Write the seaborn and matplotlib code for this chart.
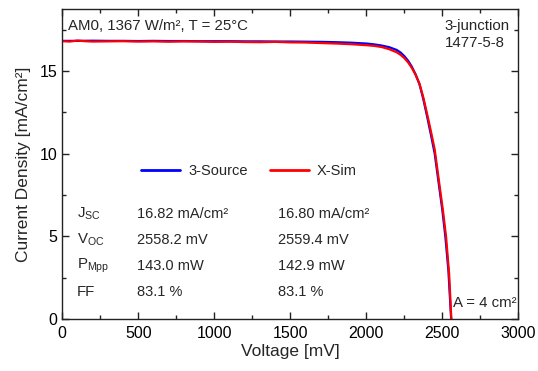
import matplotlib
matplotlib.use("Agg")
import matplotlib.pyplot as plt
import seaborn as sns
import pandas as pd
from matplotlib.ticker import MultipleLocator

# I-V data of the 3-junction cell (voltage in mV, current density in mA/cm²)
v_source = [0, 100, 200, 300, 400, 500, 600, 700, 800, 900, 1000, 1100, 1200,
            1300, 1400, 1500, 1600, 1700, 1800, 1900, 2000, 2050, 2100, 2150,
            2200, 2225, 2250, 2275, 2300, 2325, 2350, 2375, 2400, 2425, 2450,
            2475, 2500, 2520, 2540, 2558.2]
j_source = [16.82, 16.82, 16.83, 16.82, 16.82, 16.81, 16.82, 16.81, 16.81,
            16.80, 16.80, 16.80, 16.79, 16.79, 16.78, 16.78, 16.77, 16.76,
            16.74, 16.71, 16.66, 16.61, 16.54, 16.44, 16.27, 16.12, 15.90,
            15.62, 15.25, 14.78, 14.20, 13.30, 12.25, 11.15, 10.00, 8.30,
            6.60, 5.00, 2.95, 0.0]

v_sim = [0, 50, 100, 150, 200, 300, 400, 500, 600, 700, 800, 900, 1000, 1100,
         1200, 1300, 1400, 1500, 1600, 1700, 1800, 1900, 2000, 2050, 2100,
         2150, 2200, 2225, 2250, 2275, 2300, 2325, 2350, 2375, 2400, 2425,
         2450, 2480, 2505, 2525, 2545, 2559.4]
j_sim = [16.80, 16.78, 16.84, 16.80, 16.78, 16.79, 16.80, 16.78, 16.79, 16.77,
         16.79, 16.78, 16.76, 16.77, 16.75, 16.74, 16.76, 16.73, 16.72, 16.69,
         16.66, 16.62, 16.56, 16.52, 16.45, 16.32, 16.13, 15.98, 15.78,
         15.52, 15.18, 14.75, 14.22, 13.40, 12.40, 11.35, 10.25, 8.20, 6.50,
         4.95, 2.70, 0.0]

series_names = ["3-Source", "X-Sim"]
series_colors = ["#0000ff", "#ff0000"]

param_labels = [r"$\mathrm{J}_{\mathrm{SC}}$", r"$\mathrm{V}_{\mathrm{OC}}$",
                r"$\mathrm{P}_{\mathrm{Mpp}}$", "FF"]
source_params = ["16.82 mA/cm²", "2558.2 mV", "143.0 mW", "83.1 %"]
sim_params = ["16.80 mA/cm²", "2559.4 mV", "142.9 mW", "83.1 %"]

df = pd.concat([
    pd.DataFrame({"Voltage": v_source, "Current": j_source, "Data": series_names[0]}),
    pd.DataFrame({"Voltage": v_sim, "Current": j_sim, "Data": series_names[1]}),
], ignore_index=True)

sns.set_style("ticks")
plt.rcParams["font.family"] = ["Liberation Sans", "DejaVu Sans"]
plt.rcParams["mathtext.fontset"] = "custom"
plt.rcParams["mathtext.rm"] = "Liberation Sans"
plt.rcParams["axes.edgecolor"] = "#222222"

fig = plt.figure(figsize=(5.38, 3.71), dpi=100)
ax = fig.add_axes([62.3 / 538, 1 - 319 / 371, 456 / 538, 309.7 / 371])

sns.lineplot(data=df, x="Voltage", y="Current", hue="Data", palette=series_colors,
             hue_order=series_names, sort=False, estimator=None, linewidth=1.6,
             ax=ax, legend=True)

ax.set_xlim(0, 3000)
ax.set_ylim(0, 18.73)
ax.xaxis.set_major_locator(MultipleLocator(500))
ax.xaxis.set_minor_locator(MultipleLocator(250))
ax.yaxis.set_major_locator(MultipleLocator(5))
ax.yaxis.set_minor_locator(MultipleLocator(2.5))
ax.tick_params(which="both", direction="in", top=True, right=True,
               labelsize=11.5, colors="#222222", labelcolor="black")
ax.tick_params(which="major", length=5, width=1)
ax.tick_params(which="minor", length=3, width=1)
ax.tick_params(axis="x", pad=5)
for s in ax.spines.values():
    s.set_linewidth(1)

ax.set_xlabel("Voltage [mV]", fontsize=12.5, labelpad=2)
ax.set_ylabel("Current Density [mA/cm²]", fontsize=12.5, labelpad=6)

leg = ax.legend(loc="center left", bbox_to_anchor=(0.172, 0.478), ncol=2,
                frameon=False, fontsize=10.5, handlelength=2.7,
                handletextpad=0.55, columnspacing=1.5, borderpad=0,
                borderaxespad=0)
for line in leg.get_lines():
    line.set_linewidth(2)

ax.text(0.013, 0.97, "AM0, 1367 W/m², T = 25°C", transform=ax.transAxes,
        fontsize=10.8, va="top", ha="left")
ax.text(0.838, 0.97, "3-junction\n1477-5-8", transform=ax.transAxes,
        fontsize=10.8, va="top", ha="left", linespacing=1.3)
ax.text(0.857, 0.03, "A = 4 cm²", transform=ax.transAxes,
        fontsize=10.8, va="bottom", ha="left")

row_y = [0.340, 0.255, 0.171, 0.087]
for lab, a, b, y in zip(param_labels, source_params, sim_params, row_y):
    ax.text(0.032, y, lab, transform=ax.transAxes, fontsize=10.8, va="center")
    ax.text(0.163, y, a, transform=ax.transAxes, fontsize=10.5, va="center")
    ax.text(0.473, y, b, transform=ax.transAxes, fontsize=10.5, va="center")

fig.savefig("out.png", dpi=100)
